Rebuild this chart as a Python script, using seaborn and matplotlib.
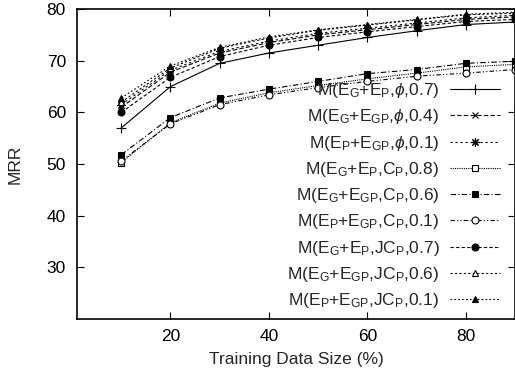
"""
Training data size vs MRR, 9 model settings (gnuplot-style line chart)
"""

import matplotlib
matplotlib.use('Agg')
import matplotlib.pyplot as plt
import seaborn as sns

sns.set_style('ticks')
plt.rcParams['font.family'] = ['Liberation Sans', 'DejaVu Sans']
plt.rcParams['mathtext.fontset'] = 'custom'
plt.rcParams['mathtext.rm'] = 'Liberation Sans'
plt.rcParams['mathtext.it'] = 'Liberation Sans:italic'

# 데이터
train_size = [10, 20, 30, 40, 50, 60, 70, 80, 90]

labels = [
    r'M(E$_\mathrm{G}$+E$_\mathrm{P}$,$\phi$,0.7)',
    r'M(E$_\mathrm{G}$+E$_\mathrm{GP}$,$\phi$,0.4)',
    r'M(E$_\mathrm{P}$+E$_\mathrm{GP}$,$\phi$,0.1)',
    r'M(E$_\mathrm{G}$+E$_\mathrm{P}$,C$_\mathrm{P}$,0.8)',
    r'M(E$_\mathrm{G}$+E$_\mathrm{GP}$,C$_\mathrm{P}$,0.6)',
    r'M(E$_\mathrm{P}$+E$_\mathrm{GP}$,C$_\mathrm{P}$,0.1)',
    r'M(E$_\mathrm{G}$+E$_\mathrm{P}$,JC$_\mathrm{P}$,0.7)',
    r'M(E$_\mathrm{G}$+E$_\mathrm{GP}$,JC$_\mathrm{P}$,0.6)',
    r'M(E$_\mathrm{P}$+E$_\mathrm{GP}$,JC$_\mathrm{P}$,0.1)',
]

mrr_g_p_phi = [57.0, 65.0, 69.5, 71.5, 73.0, 74.5, 75.8, 77.0, 77.5]
mrr_g_gp_phi = [61.0, 67.8, 71.5, 73.5, 75.0, 76.0, 77.0, 78.0, 78.5]
mrr_p_gp_phi = [61.5, 68.2, 71.8, 73.8, 75.3, 76.3, 77.3, 78.3, 78.8]
mrr_g_p_cp = [50.3, 58.0, 61.8, 63.8, 65.2, 66.5, 67.6, 68.8, 69.3]
mrr_g_gp_cp = [51.8, 59.0, 62.8, 64.5, 66.0, 67.5, 68.3, 69.5, 69.9]
mrr_p_gp_cp = [50.6, 57.8, 61.5, 63.4, 64.8, 66.0, 67.0, 67.6, 68.3]
mrr_g_p_jcp = [60.0, 66.8, 70.8, 73.0, 74.5, 75.6, 76.6, 77.6, 78.0]
mrr_g_gp_jcp = [62.0, 68.6, 72.4, 74.4, 75.9, 76.9, 77.9, 78.9, 79.2]
mrr_p_gp_jcp = [62.8, 69.0, 72.6, 74.6, 76.0, 77.0, 78.0, 79.0, 79.4]

series = [mrr_g_p_phi, mrr_g_gp_phi, mrr_p_gp_phi, mrr_g_p_cp, mrr_g_gp_cp,
          mrr_p_gp_cp, mrr_g_p_jcp, mrr_g_gp_jcp, mrr_p_gp_jcp]

# 스타일 (선 모양, 마커, 채움)
styles = [
    dict(linestyle='-', marker='+', markersize=7),
    dict(linestyle=(0, (4, 2)), marker='x', markersize=5),
    dict(linestyle=(0, (2, 2.5)), marker=(8, 2, 0), markersize=6),
    dict(linestyle=(0, (1, 1)), marker='s', markersize=5, markerfacecolor='white'),
    dict(linestyle=(0, (5, 2, 1, 2)), marker='s', markersize=5, markerfacecolor='black'),
    dict(linestyle=(0, (4, 2, 1, 2, 1, 2)), marker='o', markersize=5, markerfacecolor='white'),
    dict(linestyle=(0, (3, 2)), marker='o', markersize=5, markerfacecolor='black'),
    dict(linestyle=(0, (2, 2)), marker='^', markersize=5, markerfacecolor='white'),
    dict(linestyle=(0, (1.5, 2)), marker='^', markersize=5, markerfacecolor='black'),
]

fig = plt.figure(figsize=(5.15, 3.78), dpi=100)
ax = fig.add_axes([0.1495, 0.156, 0.8505, 0.82])

for values, label, st in zip(series, labels, styles):
    sns.lineplot(x=train_size, y=values, ax=ax, color='black', linewidth=0.8,
                 markeredgecolor='black', markeredgewidth=0.8, label=label, **st)

ax.set_xlim(1, 90)
ax.set_ylim(20, 80)
ax.set_xticks([20, 40, 60, 80])
ax.set_yticks([30, 40, 50, 60, 70, 80])
ax.tick_params(direction='in', length=5, width=0.8, top=True, right=True,
               labelsize=12.5, colors='black')
ax.tick_params(axis='y', pad=8)
ax.tick_params(axis='x', pad=7)
for s in ax.spines.values():
    s.set_linewidth(1.2)
    s.set_color('black')

ax.set_xlabel('Training Data Size (%)', fontsize=12.5, labelpad=6)
ax.set_ylabel('MRR', fontsize=12.5, labelpad=17)

ax.legend(loc='lower right', frameon=False, markerfirst=False, fontsize=12.5,
          handlelength=2.9, labelspacing=0.42, borderaxespad=0.1,
          handletextpad=0.6, bbox_to_anchor=(0.986, 0.0))

plt.savefig('out.png', dpi=100)
plt.close()
